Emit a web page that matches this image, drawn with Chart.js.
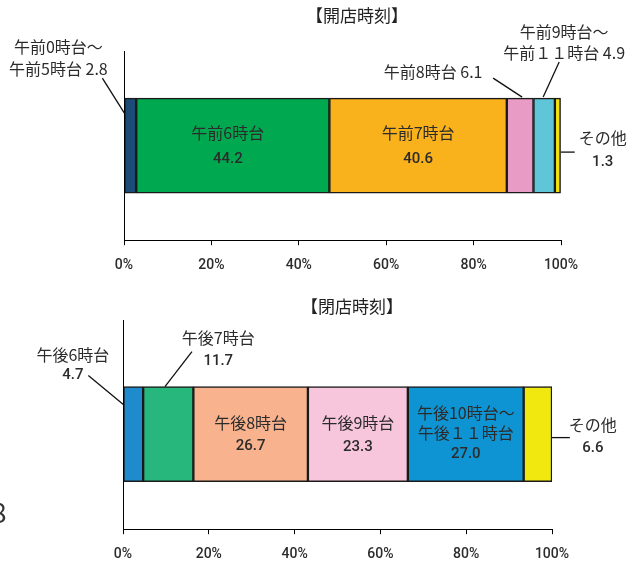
<!DOCTYPE html>
<html>
<head>
<meta charset="utf-8">
<script src="https://cdn.jsdelivr.net/npm/chart.js@4.4.1/dist/chart.umd.min.js"></script>
<style>
    body { margin: 0; background: #fff; width: 629px; height: 562px; position: relative; overflow: hidden; }
    #openWrap { position: absolute; left: 0; top: 0; }
    #closeWrap { position: absolute; left: 0; top: 285px; }
</style>
</head>
<body>
<div id="openWrap"><canvas id="open-chart" width="629" height="286"></canvas></div>
<div id="closeWrap"><canvas id="close-chart" width="629" height="290"></canvas></div>
<script>
/* Data */
const openCategories = [['午前0時台～', '午前5時台'], ['午前6時台'], ['午前7時台'], ['午前8時台'], ['午前9時台～', '午前１１時台'], ['その他']];
const openValues = [2.8, 44.2, 40.6, 6.1, 4.9, 1.3];
const closeCategories = [['午後6時台'], ['午後7時台'], ['午後8時台'], ['午後9時台'], ['午後10時台～', '午後１１時台'], ['その他']];
const closeValues = [4.7, 11.7, 26.7, 23.3, 27.0, 6.6];
const tickValues = [0, 20, 40, 60, 80, 100];

const openColors = ['#1d4b78', '#00a84f', '#f9b11c', '#e89cc5', '#5ec6d8', '#f2e30f'];
const closeColors = ['#1f8bcd', '#27b67b', '#f8b28d', '#f7c5dc', '#0f94d3', '#f0e80f'];

/* Label layout: offsets from segment center (text centers and leader lines) */
const openLayout = [
    { inline: true, dx: -72, dy: [-98.5, -76.5], lead: [-28, -67.5, -6, -32.5] },
    { dx: -5, dy: [-12.5, 13.5] },
    { dx: 0, dy: [-12.5, 13.5] },
    { inline: true, dx: -87, dy: [-73.5], lead: [-27, -67.5, 2, -48.5] },
    { inline: true, dx: 20, dy: [-113.5, -92.5], lead: [15, -83.5, -1, -48.5] },
    { dx: 45, dy: [-7.5, 16.5], lead: [3, 6.5, 17, 6.5] }
];
const closeLayout = [
    { dx: -60.5, dy: [-79.5, -58.5], lead: [-45, -58.5, -10, -29.5] },
    { dx: 50, dy: [-96.5, -72.5], lead: [23.7, -82.5, -3.3, -47.5] },
    { dx: 0, dy: [-11.5, 12.5] },
    { dx: 0, dy: [-11.5, 13.5] },
    { dx: 0, dy: [-21.5, -1.5, 20.5] },
    { dx: 55, dy: [-9.5, 14.5], lead: [14, 3.5, 32, 3.5] }
];

Chart.defaults.font.family = "'Noto Sans CJK JP', 'Noto Sans', sans-serif";

const labelPlugin = {
    id: 'segmentLabels',
    afterDatasetsDraw(chart, args, opts) {
        const ctx = chart.ctx;
        const area = chart.chartArea;
        ctx.save();

        // y axis line
        ctx.strokeStyle = '#000';
        ctx.lineWidth = 1;
        ctx.beginPath();
        ctx.moveTo(area.left + 0.5, area.top - opts.axisExtra);
        ctx.lineTo(area.left + 0.5, area.bottom);
        ctx.stroke();

        // title
        ctx.fillStyle = '#222';
        ctx.textAlign = 'center';
        ctx.textBaseline = 'middle';
        ctx.font = "17px 'Noto Sans CJK JP'";
        ctx.fillText(opts.title, opts.titleX, opts.titleY);

        opts.categories.forEach(function (lines, i) {
            const bar = chart.getDatasetMeta(i).data[0];
            const cx = (bar.x + bar.base) / 2;
            const cy = bar.y;
            const lay = opts.layout[i];
            const value = opts.values[i].toFixed(1);

            let texts = lines.slice();
            if (lay.inline) {
                texts[texts.length - 1] = texts[texts.length - 1] + ' ' + value;
            } else {
                texts.push(value);
            }
            texts.forEach(function (t, k) {
                const isNum = !lay.inline && k === texts.length - 1;
                ctx.fillStyle = '#2b2b2b';
                ctx.font = isNum ? "500 15px Roboto, 'Noto Sans CJK JP'" : "16px 'Noto Sans CJK JP'";
                ctx.fillText(t, cx + lay.dx, cy + lay.dy[k]);
            });

            if (lay.lead) {
                ctx.strokeStyle = '#111';
                ctx.lineWidth = 1.3;
                ctx.beginPath();
                ctx.moveTo(cx + lay.lead[0], cy + lay.lead[1]);
                ctx.lineTo(cx + lay.lead[2], cy + lay.lead[3]);
                ctx.stroke();
            }
        });

        if (opts.stray) {
            ctx.fillStyle = '#333';
            ctx.textAlign = 'left';
            ctx.font = "28px 'Noto Sans CJK JP'";
            ctx.fillText('8', -9, opts.stray);
        }
        ctx.restore();
    }
};

function buildDatasets(categories, values, colors) {
    return categories.map(function (lines, i) {
        return {
            label: lines.join(''),
            data: [values[i]],
            backgroundColor: colors[i],
            borderColor: '#1a1a1a',
            borderWidth: 1.5,
            borderSkipped: false,
            barThickness: 95
        };
    });
}

function createStackChart(canvasId, categories, values, colors, layout, padding, extra) {
    const ctx = document.getElementById(canvasId).getContext('2d');
    return new Chart(ctx, {
        type: 'bar',
        data: {
            labels: [''],
            datasets: buildDatasets(categories, values, colors)
        },
        options: {
            indexAxis: 'y',
            responsive: false,
            animation: false,
            layout: { padding: padding },
            plugins: {
                legend: { display: false },
                tooltip: { enabled: false },
                segmentLabels: Object.assign({ categories: categories, values: values, layout: layout }, extra)
            },
            scales: {
                x: {
                    type: 'linear',
                    stacked: true,
                    min: 0,
                    max: 100,
                    afterBuildTicks: function (scale) {
                        scale.ticks = tickValues.map(function (v) { return { value: v }; });
                    },
                    ticks: {
                        callback: function (v) { return v + '%'; },
                        color: '#2b2b2b',
                        padding: 12,
                        maxRotation: 0,
                        font: { family: "Roboto, 'Noto Sans CJK JP'", size: 14, weight: '500' }
                    },
                    grid: { drawOnChartArea: false, drawTicks: true, tickLength: 5, color: '#000' },
                    border: { display: true, color: '#000', width: 1 }
                },
                y: {
                    stacked: true,
                    display: false
                }
            }
        },
        plugins: [labelPlugin]
    });
}

createStackChart('open-chart', openCategories, openValues, openColors, openLayout,
    { left: 124, right: 68, top: 51, bottom: 0 },
    { title: '【開店時刻】', titleX: 357, titleY: 16, axisExtra: 0 });

createStackChart('close-chart', closeCategories, closeValues, closeColors, closeLayout,
    { left: 123, right: 77, top: 54, bottom: 0 },
    { title: '【閉店時刻】', titleX: 352, titleY: 22, axisExtra: 19, stray: 227 });
</script>
</body>
</html>
